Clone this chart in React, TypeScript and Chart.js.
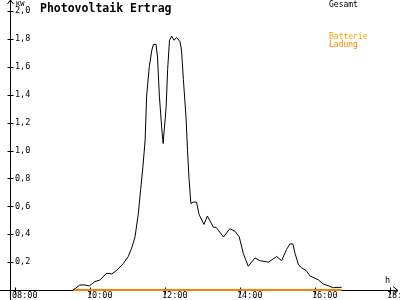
import React, { useEffect, useRef } from "react";
import { Chart, registerables } from "chart.js";

Chart.register(...registerables);

// Gesamt (total yield), hours -> kW
const gesamtHours = [9.55, 9.73, 9.87, 9.98, 10.13, 10.27, 10.44, 10.58, 10.71, 10.89, 11.02, 11.11, 11.2, 11.29, 11.35, 11.41, 11.47, 11.51, 11.58, 11.65, 11.69, 11.76, 11.8, 11.85, 11.91, 11.95, 12.03, 12.07, 12.12, 12.18, 12.24, 12.31, 12.4, 12.44, 12.49, 12.56, 12.6, 12.64, 12.69, 12.75, 12.84, 12.91, 13.04, 13.13, 13.29, 13.36, 13.56, 13.73, 13.87, 13.98, 14.09, 14.22, 14.4, 14.53, 14.76, 14.98, 15.11, 15.24, 15.33, 15.41, 15.47, 15.56, 15.64, 15.76, 15.87, 16.0, 16.09, 16.22, 16.35, 16.49, 16.56, 16.71];
const gesamtValues = [0.0, 0.036, 0.036, 0.029, 0.06, 0.072, 0.12, 0.115, 0.14, 0.19, 0.24, 0.3, 0.38, 0.55, 0.72, 0.88, 1.075, 1.39, 1.6, 1.72, 1.76, 1.76, 1.67, 1.39, 1.17, 1.05, 1.31, 1.58, 1.79, 1.82, 1.79, 1.81, 1.78, 1.72, 1.51, 1.24, 1.0, 0.8, 0.62, 0.63, 0.63, 0.54, 0.47, 0.53, 0.45, 0.45, 0.38, 0.44, 0.42, 0.38, 0.26, 0.17, 0.23, 0.21, 0.2, 0.24, 0.21, 0.29, 0.33, 0.33, 0.26, 0.18, 0.16, 0.14, 0.1, 0.084, 0.072, 0.043, 0.031, 0.016, 0.019, 0.019];

// Batterie Ladung (battery charging)
const ladungHours = [9.55, 16.71];
const ladungValues = [0, 0];

const xTickStep = 2;
const yTickStep = 0.2;

const MONO = '"DejaVu Sans Mono", monospace';

export default function App() {
  const ref = useRef<HTMLCanvasElement | null>(null);

  useEffect(() => {
    if (!ref.current) return;
    const extras = {
      id: "extras",
      beforeDatasetsDraw(chart: any) {
        const ctx = chart.ctx;
        const xs = chart.scales.x;
        const ys = chart.scales.y;
        const y0 = Math.round(ys.getPixelForValue(0)) + 0.5;
        const x0 = Math.round(chart.chartArea.left) + 0.5;
        ctx.save();
        ctx.strokeStyle = "#000";
        ctx.lineWidth = 1;
        ctx.beginPath();
        ctx.moveTo(0, y0);
        ctx.lineTo(398, y0);
        ctx.moveTo(x0, 0);
        ctx.lineTo(x0, 300);
        // arrows
        ctx.moveTo(393, y0 - 4);
        ctx.lineTo(398, y0);
        ctx.lineTo(393, y0 + 4);
        ctx.moveTo(x0 - 3, 4);
        ctx.lineTo(x0, 0);
        ctx.lineTo(x0 + 3, 4);
        // ticks
        xs.ticks.forEach((t: any) => {
          const px = Math.round(xs.getPixelForValue(t.value)) + 0.5;
          ctx.moveTo(px, y0 - 3);
          ctx.lineTo(px, y0 + 4);
        });
        ys.ticks.forEach((t: any) => {
          if (t.value === 0) return;
          const py = Math.round(ys.getPixelForValue(t.value)) + 0.5;
          ctx.moveTo(x0 - 3, py);
          ctx.lineTo(x0 + 3, py);
        });
        ctx.stroke();
        ctx.restore();
      },
      afterDraw(chart: any) {
        const ctx = chart.ctx;
        ctx.save();
        ctx.textBaseline = "alphabetic";
        ctx.textAlign = "left";
        ctx.fillStyle = "#000";
        ctx.font = `bold 11.5px ${MONO}`;
        ctx.fillText("Photovoltaik Ertrag", 40, 12);
        ctx.font = `7px ${MONO}`;
        ctx.fillText("KW", 16, 6);
        ctx.font = `8px ${MONO}`;
        ctx.fillText("Gesamt", 329, 7);
        ctx.fillStyle = "#FFA500";
        ctx.fillText("Batterie", 329, 39);
        ctx.fillStyle = "#FF8000";
        ctx.fillText("Ladung", 329, 47);
        ctx.fillStyle = "#000";
        ctx.font = `8.5px ${MONO}`;
        ctx.fillText("h", 385, 283);
        ctx.restore();
      },
    };

    const chart = new Chart(ref.current, {
      type: "line",
      data: {
        datasets: [
          {
            label: "Gesamt",
            data: gesamtHours.map((h, i) => ({ x: h, y: gesamtValues[i] })),
            borderColor: "#000",
            borderWidth: 1,
            pointRadius: 0,
            tension: 0,
            fill: false,
            clip: false,
            order: 0,
          },
          {
            label: "Batterie Ladung",
            data: ladungHours.map((h, i) => ({ x: h, y: ladungValues[i] })),
            borderColor: "#FF8000",
            borderWidth: 2,
            pointRadius: 0,
            tension: 0,
            fill: false,
            clip: false,
            order: 1,
          },
        ],
      },
      options: {
        responsive: false,
        animation: false,
        layout: { padding: { left: 0, right: 2, top: 0, bottom: 0 } },
        plugins: {
          legend: { display: false },
          tooltip: { enabled: false },
          title: { display: false },
        },
        scales: {
          x: {
            type: "linear",
            min: 8 - 5 / 37.5,
            max: 8 + 383 / 37.5,
            afterFit: (s: any) => {
              s.height = 10;
              s.paddingLeft = 0;
              s.paddingRight = 0;
            },
            border: { display: false },
            grid: { display: false, drawTicks: false },
            ticks: {
              stepSize: xTickStep,
              includeBounds: false,
              autoSkip: false,
              maxRotation: 0,
              align: "start",
              labelOffset: -3,
              padding: 1,
              color: "#000",
              font: { family: MONO, size: 8.5 },
              callback: (v: any) => `${String(Math.round(v)).padStart(2, "0")}:00`,
            },
          },
          y: {
            type: "linear",
            min: 0,
            max: 290 / 139.5,
            afterFit: (s: any) => {
              s.width = 10;
              s.paddingTop = 0;
              s.paddingBottom = 0;
            },
            border: { display: false },
            grid: { display: false, drawTicks: false },
            ticks: {
              stepSize: yTickStep,
              includeBounds: false,
              autoSkip: false,
              mirror: true,
              padding: 5,
              color: "#000",
              font: { family: MONO, size: 8.5 },
              callback: (v: any) => (Math.abs(v) < 1e-9 ? "" : Number(v).toFixed(1).replace(".", ",")),
            },
          },
        },
      },
      plugins: [extras],
    });
    return () => chart.destroy();
  }, []);

  return (
    <div style={{ position: "absolute", left: 0, top: 0, width: 400, height: 300, background: "#fff" }}>
      <canvas ref={ref} width={400} height={300} style={{ display: "block" }} />
    </div>
  );
}
